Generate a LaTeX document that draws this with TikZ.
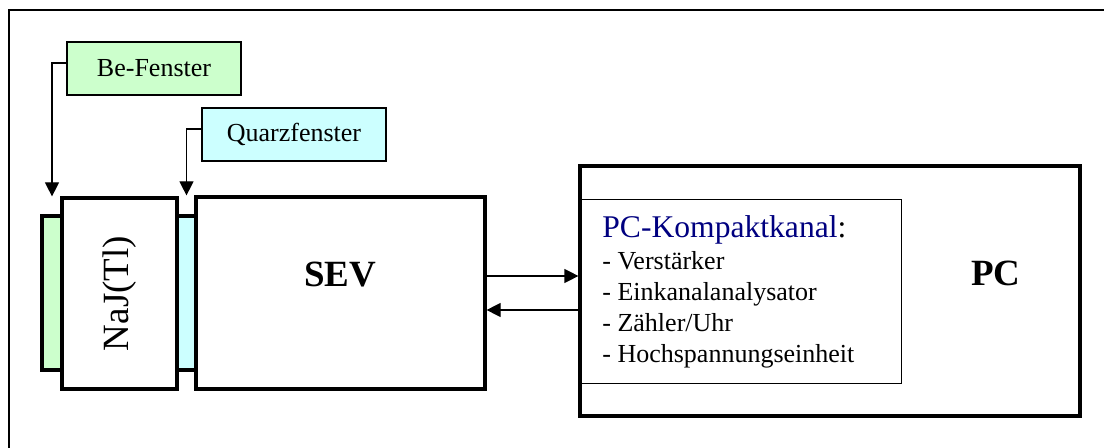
\documentclass[tikz,border=0pt]{standalone}
\usepackage{fontspec}
\setmainfont{Liberation Serif}
\usetikzlibrary{arrows.meta}
\usetikzlibrary{positioning}
\usetikzlibrary{calc}

\definecolor{befill}{HTML}{CCFFCC}
\definecolor{quarzfill}{HTML}{CCFFFF}
\definecolor{kanalblue}{HTML}{000080}

\tikzset{
  arrow/.style = {
    -{Triangle[length=7pt,width=7pt]},
    line width=0.6pt
  },
  unit/.style = {
    draw,
    line width=1.6pt,
    fill=white,
    inner sep=0pt
  },
  plate/.style = {
    draw,
    line width=1.6pt,
    inner sep=0pt,
    minimum height=77pt
  },
  window/.style = {
    draw,
    line width=0.9pt,
    inner sep=0pt,
    minimum height=26.5pt,
    font=\fontsize{13}{15}\selectfont
  },
  biglabel/.style = {
    inner sep=0pt,
    font=\fontsize{18.5}{22}\selectfont
  },
}

\begin{document}
\begin{tikzpicture}[x=0.5pt,y=-0.5pt]
  \useasboundingbox (0,0) rectangle (1104,448);

  % frame (cut off on the right and at the bottom)
  \draw [line width=0.9pt] (9,448) |- (1104,10);

  % detector: windows and crystal
  \node [plate,fill=befill,minimum width=10pt] (beplate) at (52,293) {};
  \node [plate,fill=quarzfill,minimum width=9.5pt] (quarzplate) at (186.5,293) {};
  \node [unit,minimum width=57.5pt,minimum height=95.5pt] (naj) at (119.5,293.5) {};
  \node [biglabel,rotate=90] at (naj.center) {NaJ(Tl)};

  \node [unit,minimum width=144.5pt,minimum height=96pt] (sev) at (340.5,293) {};
  \node [biglabel,font=\fontsize{18.5}{22}\selectfont\bfseries] at (340,275) {SEV};

  % computer with plug-in card
  \node [unit,minimum width=250pt,minimum height=125pt] (pc) at (830,291) {};
  \node [draw,line width=0.5pt,inner sep=0pt,minimum width=160.5pt,minimum height=92pt] (kanal) at (740.5,292) {};
  \node [biglabel,font=\fontsize{18.5}{22}\selectfont\bfseries] at (996,273) {PC};

  \node [anchor=base west,inner sep=0pt,font=\fontsize{15.8}{18}\selectfont] (kanaltitle) at (602,238)
    {\textcolor{kanalblue}{PC-Kompaktkanal}:};
  \foreach[count=\i] \entry in {Verstärker,Einkanalanalysator,Zähler/Uhr,Hochspannungseinheit} {
    \node [anchor=base west,inner sep=0pt,font=\fontsize{13}{15}\selectfont] (kanal-\i) at (602,{239+31*\i}) {- \entry};
  }

  % window labels
  \node [window,fill=befill,minimum width=87pt] (befenster) at (154,68.5) {Be-Fenster};
  \node [window,fill=quarzfill,minimum width=92pt] (quarzfenster) at (294,134.5) {Quarzfenster};

  \draw [arrow] ([yshift=2.7pt]befenster.west) -| (beplate.north |- naj.north);
  \draw [arrow] ([yshift=2.7pt]quarzfenster.west) -| (quarzplate.north |- sev.north);

  % signal lines
  \draw [arrow] ([yshift=8.5pt]sev.east) -- ([yshift=8.5pt]sev.east -| pc.west);
  \draw [arrow] ([yshift=-8.5pt]sev.east -| pc.west) -- ([yshift=-8.5pt]sev.east);
\end{tikzpicture}
\end{document}
